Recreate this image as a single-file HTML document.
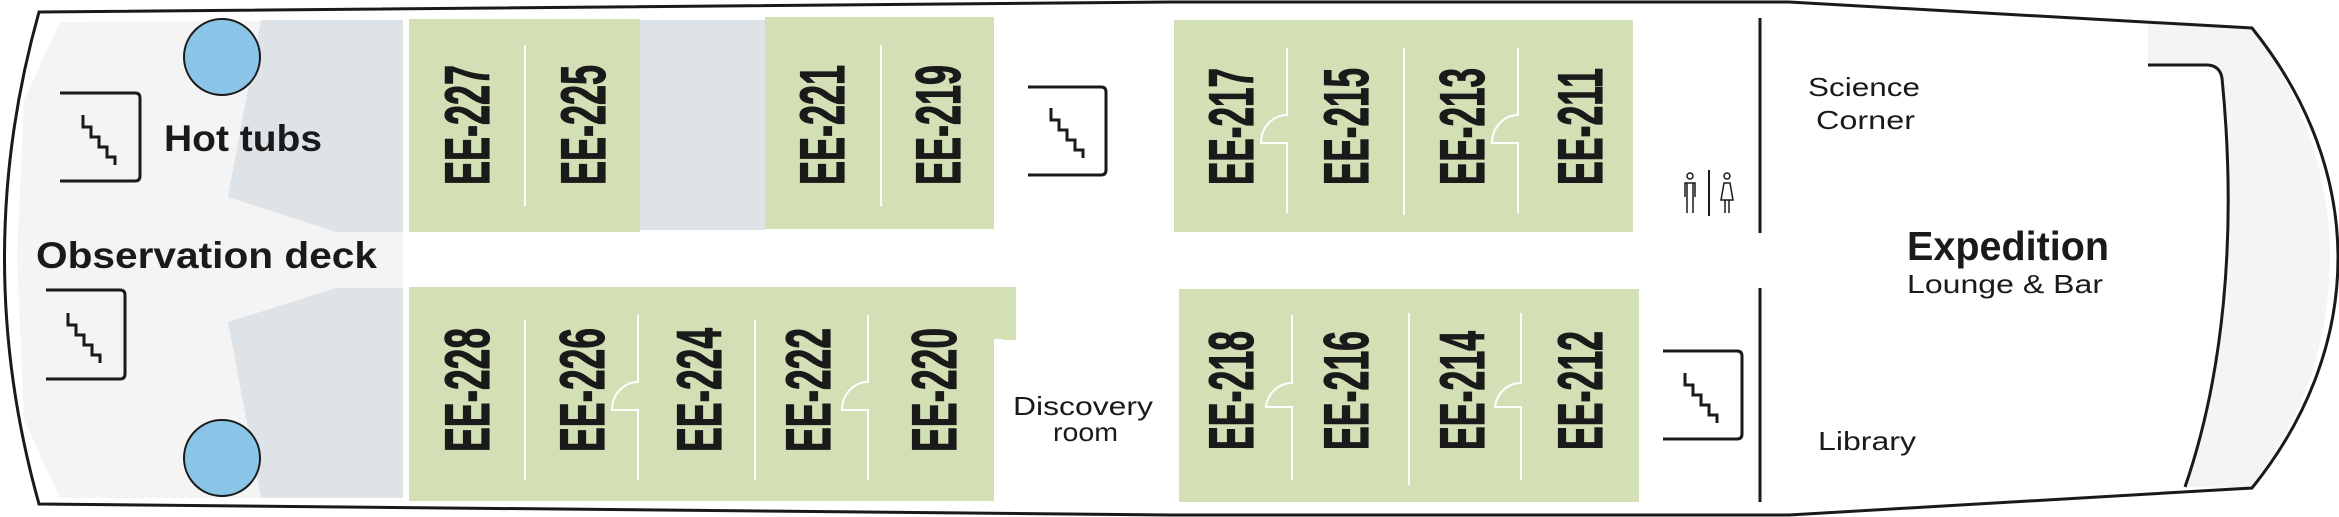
<!DOCTYPE html>
<html><head><meta charset="utf-8"><style>
html,body{margin:0;padding:0;background:#fff;}
svg{display:block;}
text{font-family:"Liberation Sans",sans-serif;fill:#1a1a1a;}
.lab{font-weight:bold;font-size:63px;stroke:#1a1a1a;stroke-width:1.2;}
</style></head><body>
<svg width="2339" height="517" viewBox="0 0 2339 517" xmlns="http://www.w3.org/2000/svg">
<path d="M60,22 L403,20 L403,498 L60,498 L24,420 L17,258 L24,100 Z" fill="#f4f4f4"/>
<path d="M261,20 L403,20 L403,232 L336,232 L228,197 Z" fill="#dee3e7"/>
<path d="M336,288 L403,288 L403,498 L261,498 L228,322 Z" fill="#dee3e7"/>
<rect x="638" y="20" width="127" height="210" fill="#dee3e7"/>
<circle cx="222" cy="57" r="38" fill="#8ac4e6" stroke="#1a1a1a" stroke-width="2"/>
<circle cx="222" cy="458" r="38" fill="#8ac4e6" stroke="#1a1a1a" stroke-width="2"/>
<rect x="409" y="19" width="231" height="213" fill="#d3e0b6"/>
<rect x="765" y="17" width="229" height="212" fill="#d3e0b6"/>
<path d="M409,287 H1016 V340 H994 V501 H409 Z" fill="#d3e0b6"/>
<rect x="1174" y="20" width="459" height="212" fill="#d3e0b6"/>
<rect x="1179" y="289" width="460" height="213" fill="#d3e0b6"/>
<g stroke="#fff" stroke-width="2" fill="none">
<line x1="525" y1="45" x2="525" y2="206"/>
<line x1="881" y1="45" x2="881" y2="206"/>
<line x1="525" y1="320" x2="525" y2="480"/>
<path d="M638,315 V382 A26 28 0 0 0 612 410 H638 V480"/>
<line x1="755" y1="320" x2="755" y2="480"/>
<path d="M868,315 V382 A26 28 0 0 0 842 410 H868 V480"/>
<line x1="994" y1="340" x2="1003" y2="340"/>
<path d="M1287,48 V115 A26 28 0 0 0 1261 143 H1287 V213"/>
<line x1="1404" y1="48" x2="1404" y2="215"/>
<path d="M1518,48 V115 A26 28 0 0 0 1492 143 H1518 V213"/>
<path d="M1292,315 V383 A26 27 0 0 0 1266 407 H1292 V480"/>
<line x1="1409" y1="313" x2="1409" y2="485"/>
<path d="M1521,313 V383 A26 27 0 0 0 1495 407 H1521 V480"/>
</g>
<path d="M2148,23 L2252,28 C2305,100 2330,180 2330,258 C2330,336 2305,416 2252,488 L2185,487 C2222,380 2238,240 2222,78 Q2220,66 2208,65 L2148,65 Z" fill="#f4f4f4"/>
<path d="M2148,65 H2208 Q2220,66 2222,78 C2238,240 2222,380 2185,487" fill="none" stroke="#1a1a1a" stroke-width="3"/>
<path d="M39,12 L1170,2 L1789,2 L2252,28 C2310,100 2338,180 2338,258 C2338,336 2310,416 2252,488 L1789,515 L1170,515 L39,504 Q-30,258 39,12 Z" fill="none" stroke="#1a1a1a" stroke-width="3"/>
<g stroke="#1a1a1a" stroke-width="3" fill="none">
<line x1="1760" y1="18" x2="1760" y2="233"/>
<line x1="1760" y1="288" x2="1760" y2="502"/>
<line x1="1709" y1="170" x2="1709" y2="216" stroke-width="2"/>
<path d="M60,93 H135 Q140,93 140,98 V176 Q140,181 135,181 H60"/>
<path d="M83,115 v12 h8 v10 h8 v10 h8 v10 h8 v8"/>
<path d="M46,290 H120 Q125,290 125,295 V374 Q125,379 120,379 H46"/>
<path d="M68,313 v12 h8 v10 h8 v10 h8 v10 h8 v8"/>
<path d="M1028,87 H1101 Q1106,87 1106,92 V170 Q1106,175 1101,175 H1028"/>
<path d="M1051,108 v12 h8 v10 h8 v10 h8 v10 h8 v8"/>
<path d="M1663,351 H1737 Q1742,351 1742,356 V434 Q1742,439 1737,439 H1663"/>
<path d="M1685,373 v12 h8 v10 h8 v10 h8 v10 h8 v8"/>
</g>
<g stroke="#1a1a1a" stroke-width="1.5" fill="none">
<circle cx="1690" cy="176" r="3"/>
<path d="M1685,197 V183 H1695 V197 M1687,183 V213 M1693,183 V213"/>
<circle cx="1727" cy="176" r="3"/>
<path d="M1724,183 H1730 L1733,200 H1721 Z M1725,200 V213 M1729,200 V213"/>
</g>
<g>
<text class="lab" transform="translate(489,185) rotate(-90)" textLength="120" lengthAdjust="spacingAndGlyphs">EE-227</text>
<text class="lab" transform="translate(605,185) rotate(-90)" textLength="120" lengthAdjust="spacingAndGlyphs">EE-225</text>
<text class="lab" transform="translate(844,185) rotate(-90)" textLength="120" lengthAdjust="spacingAndGlyphs">EE-221</text>
<text class="lab" transform="translate(960,185) rotate(-90)" textLength="120" lengthAdjust="spacingAndGlyphs">EE-219</text>
<text class="lab" transform="translate(489,452) rotate(-90)" textLength="124" lengthAdjust="spacingAndGlyphs">EE-228</text>
<text class="lab" transform="translate(604,452) rotate(-90)" textLength="124" lengthAdjust="spacingAndGlyphs">EE-226</text>
<text class="lab" transform="translate(721,452) rotate(-90)" textLength="124" lengthAdjust="spacingAndGlyphs">EE-224</text>
<text class="lab" transform="translate(830,452) rotate(-90)" textLength="124" lengthAdjust="spacingAndGlyphs">EE-222</text>
<text class="lab" transform="translate(956,452) rotate(-90)" textLength="124" lengthAdjust="spacingAndGlyphs">EE-220</text>
<text class="lab" transform="translate(1253,185) rotate(-90)" textLength="117" lengthAdjust="spacingAndGlyphs">EE-217</text>
<text class="lab" transform="translate(1368,185) rotate(-90)" textLength="117" lengthAdjust="spacingAndGlyphs">EE-215</text>
<text class="lab" transform="translate(1484,185) rotate(-90)" textLength="117" lengthAdjust="spacingAndGlyphs">EE-213</text>
<text class="lab" transform="translate(1602,185) rotate(-90)" textLength="117" lengthAdjust="spacingAndGlyphs">EE-211</text>
<text class="lab" transform="translate(1253,450) rotate(-90)" textLength="119" lengthAdjust="spacingAndGlyphs">EE-218</text>
<text class="lab" transform="translate(1368,450) rotate(-90)" textLength="119" lengthAdjust="spacingAndGlyphs">EE-216</text>
<text class="lab" transform="translate(1484,450) rotate(-90)" textLength="119" lengthAdjust="spacingAndGlyphs">EE-214</text>
<text class="lab" transform="translate(1602,450) rotate(-90)" textLength="119" lengthAdjust="spacingAndGlyphs">EE-212</text>
</g>
<text x="164" y="151" font-size="37" font-weight="bold" textLength="158" lengthAdjust="spacingAndGlyphs">Hot tubs</text>
<text x="36" y="268" font-size="37" font-weight="bold" textLength="341" lengthAdjust="spacingAndGlyphs">Observation deck</text>
<text x="1013" y="415" font-size="26" textLength="140" lengthAdjust="spacingAndGlyphs">Discovery</text>
<text x="1053" y="441" font-size="26" textLength="65" lengthAdjust="spacingAndGlyphs">room</text>
<text x="1808" y="96" font-size="26" textLength="112" lengthAdjust="spacingAndGlyphs">Science</text>
<text x="1816" y="129" font-size="26" textLength="99" lengthAdjust="spacingAndGlyphs">Corner</text>
<text x="1907" y="260" font-size="41" font-weight="bold" textLength="202" lengthAdjust="spacingAndGlyphs">Expedition</text>
<text x="1907" y="293" font-size="26" textLength="196" lengthAdjust="spacingAndGlyphs">Lounge &amp; Bar</text>
<text x="1818" y="450" font-size="26" textLength="98" lengthAdjust="spacingAndGlyphs">Library</text>
</svg>
</body></html>
